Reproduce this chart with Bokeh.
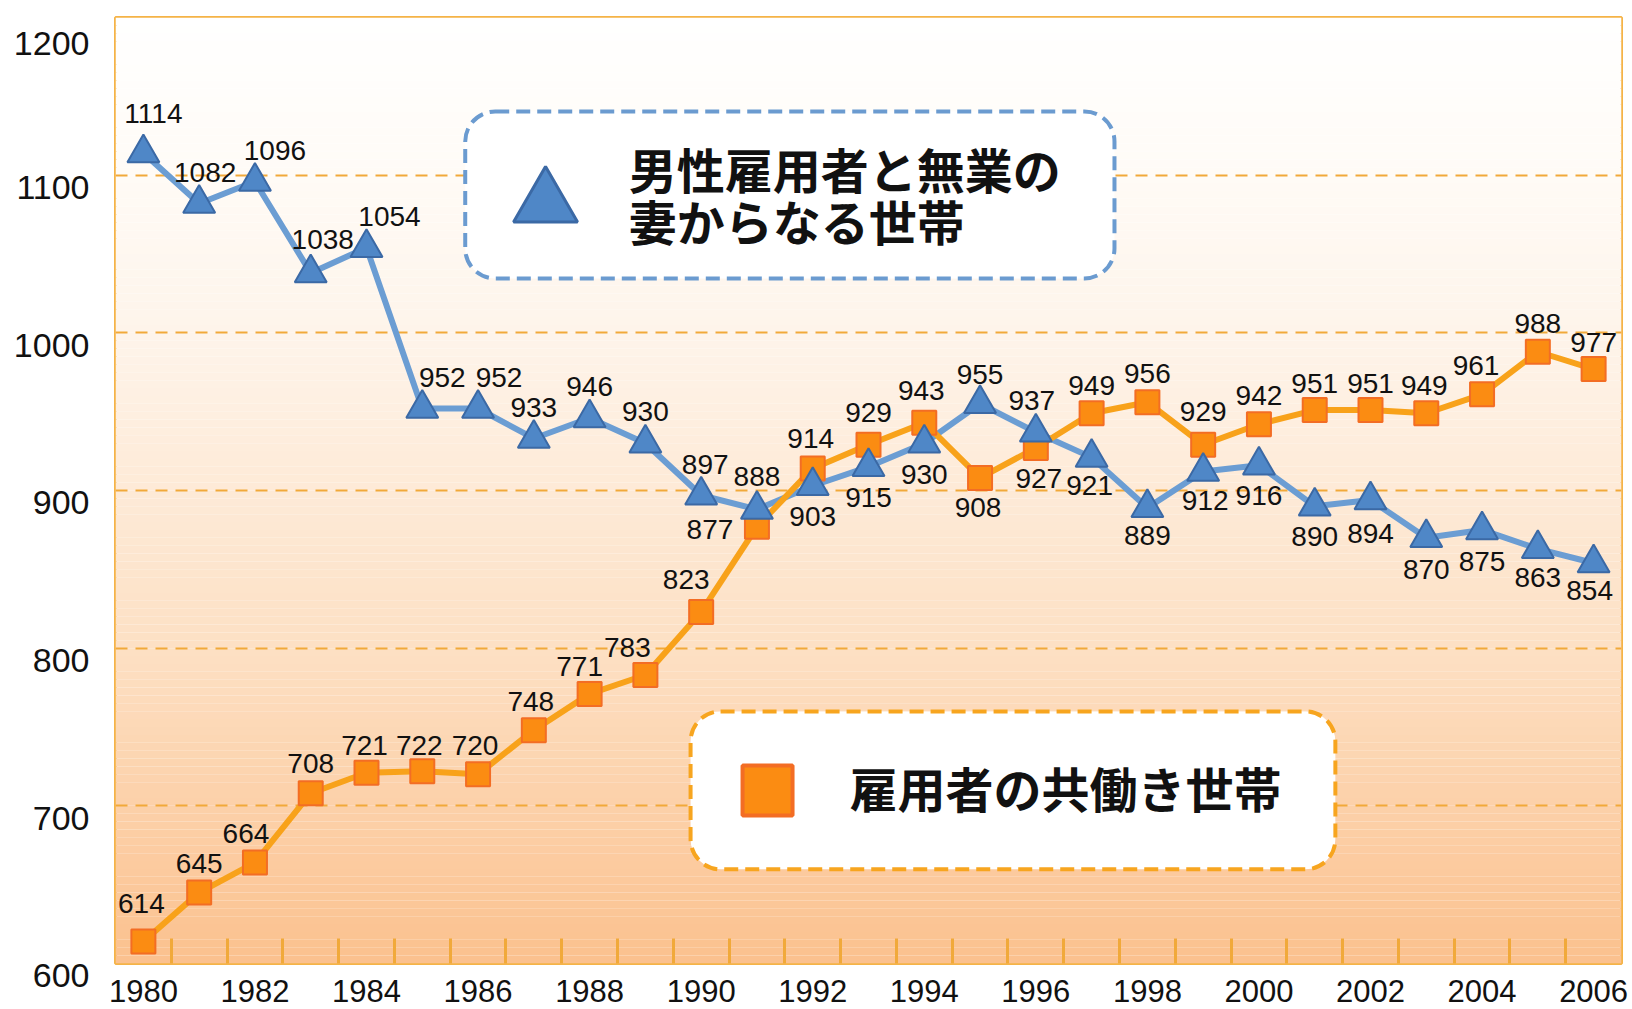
import numpy as np
from bokeh.plotting import figure
from bokeh.models import ColumnDataSource, FixedTicker, BoxAnnotation, Label, Range1d
from bokeh.core.properties import value
from bokeh.embed import file_html
from bokeh.resources import INLINE

# ---------------- data ----------------
years = list(range(1980, 2007))
single_earner = [1114, 1082, 1096, 1038, 1054, 952, 952, 933, 946, 930, 897, 888, 903,
                 915, 930, 955, 937, 921, 889, 912, 916, 890, 894, 870, 875, 863, 854]
dual_earner = [614, 645, 664, 708, 721, 722, 720, 748, 771, 783, 823, 877, 914,
               929, 943, 908, 927, 949, 956, 929, 942, 951, 951, 949, 961, 988, 977]
x_tick_years = list(range(1980, 2007, 2))
y_tick_values = [600, 700, 800, 900, 1000, 1100, 1200]
grid_values = [700, 800, 900, 1000, 1100]
name_single = ["男性雇用者と無業の", "妻からなる世帯"]
name_dual = "雇用者の共働き世帯"

# ---------------- label placement (style, screen px) ----------------
single_dx = [10, 6, 20, 12, 23, 20, 21, 0, 0, 0, 4, 0, 0, 0, 0, 0, -4,
             -2, 0, 2, 0, 0, 0, 0, 0, 0, -4]
single_dy = [-40, -31, -31, -33, -31, -31, -31, -31, -31, -32, -31, -33, 31, 31, 31,
             -29, -32, 28, 28, 29, 30, 30, 34, 32, 32, 29, 27]
dual_dx = [-2, 0, -9, 0, -2, -3, -3, -3, -10, -18, -15, -47, -2, 0, -3, -2, 3,
           0, 0, 0, 0, 0, 0, -2, -6, 0, 0]
dual_dy = [-38, -29, -29, -30, -27, -26, -29, -29, -27, -27, -32, 3, -30, -32, -32,
           30, 31, -28, -29, -33, -29, -27, -27, -28, -29, -28, -27]

BLUE_LINE = "#6b9dd3"
BLUE_FILL = "#4f87c7"
BLUE_EDGE = "#3b69a5"
OR_LINE = "#f8a21a"
OR_FILL = "#fb8c12"
OR_EDGE = "#f36d24"
FRAME = "#f5b347"
GRID = "#f1a93a"

p = figure(width=1632, height=1009, output_backend="svg", toolbar_location=None,
           x_range=Range1d(1979.5, 2006.5), y_range=Range1d(600, 1200),
           min_border_left=115, min_border_right=11, min_border_top=17, min_border_bottom=46)
p.background_fill_color = "white"
p.border_fill_color = "white"
p.outline_line_color = FRAME
p.outline_line_width = 3

# gradient background (white at top -> peach at bottom)
stops_v = np.array([600, 800, 1000, 1100, 1200], dtype=float)
stops_c = np.array([[251, 193, 142], [253, 224, 196], [254, 244, 234], [255, 251, 246], [255, 255, 255]])
edges = np.linspace(600, 1200, 121)
mids = (edges[:-1] + edges[1:]) / 2
cols = []
for m in mids:
    rgb = [int(round(np.interp(m, stops_v, stops_c[:, k]))) for k in range(3)]
    cols.append("#%02x%02x%02x" % tuple(rgb))
bg = p.quad(left=1979.5, right=2006.5, bottom=edges[:-1], top=edges[1:],
            fill_color=cols, line_color=None, level="image")

# grid
p.xgrid.visible = False
p.ygrid.ticker = FixedTicker(ticks=grid_values)
p.ygrid.grid_line_color = GRID
p.ygrid.grid_line_width = 2
p.ygrid.grid_line_dash = "12 8"

# x axis
p.xaxis.ticker = FixedTicker(ticks=x_tick_years, minor_ticks=[y + 0.5 for y in years[:-1]])
p.xaxis.axis_line_color = None
p.xaxis.major_tick_line_color = None
p.xaxis.minor_tick_line_color = GRID
p.xaxis.minor_tick_line_width = 3
p.xaxis.minor_tick_in = 25
p.xaxis.minor_tick_out = 0
p.xaxis.major_label_text_font = "Liberation Sans"
p.xaxis.major_label_text_font_size = "31px"
p.xaxis.major_label_text_color = "#111111"
p.xaxis.major_label_standoff = 10

# y axis: labels hung just below each gridline, as in the reference
p.yaxis.ticker = FixedTicker(ticks=y_tick_values)
p.yaxis.axis_line_color = None
p.yaxis.major_tick_line_color = None
p.yaxis.minor_tick_line_color = None
p.yaxis.major_label_text_font = "Liberation Sans"
p.yaxis.major_label_text_font_size = "34px"
p.yaxis.major_label_text_color = "#111111"
p.yaxis.major_label_text_line_height = 0.62
p.yaxis.major_label_overrides = {v: "\n" + str(v) for v in y_tick_values}
p.yaxis.major_label_standoff = 20

# legend boxes
box1 = BoxAnnotation(left=1985.77, right=1997.41, top=1140.4, bottom=1034.5,
                     fill_color="white", fill_alpha=1.0, line_color="#6b9bd0", line_alpha=1.0,
                     line_width=4, line_dash="14 7", border_radius=30, level="underlay")
box2 = BoxAnnotation(left=1989.81, right=2001.37, top=759.9, bottom=659.7,
                     fill_color="white", fill_alpha=1.0, line_color="#f7a51f", line_alpha=1.0,
                     line_width=4, line_dash="14 7", border_radius=30, level="underlay")
p.add_layout(box1)
p.add_layout(box2)

src_s = ColumnDataSource(dict(x=years, y=single_earner, t=[str(v) for v in single_earner],
                              dx=single_dx, dy=single_dy))
src_d = ColumnDataSource(dict(x=years, y=dual_earner, t=[str(v) for v in dual_earner],
                              dx=dual_dx, dy=dual_dy))

p.line("x", "y", source=src_s, line_color=BLUE_LINE, line_width=6)
p.line("x", "y", source=src_d, line_color=OR_LINE, line_width=6)
p.scatter("x", "y", source=src_d, marker="square", size=24, fill_color=OR_FILL,
          line_color=OR_EDGE, line_width=2)
p.scatter("x", "y", source=src_s, marker="triangle", size=32, fill_color=BLUE_FILL,
          line_color=BLUE_EDGE, line_width=2)

for src in (src_s, src_d):
    p.text("x", "y", text="t", source=src, x_offset="dx", y_offset="dy",
           text_font=value("Liberation Sans"), text_font_size="28px",
           text_align="center", text_baseline="middle", text_color="#111111")

# legend markers
p.scatter([1987.21], [1082.0], marker="triangle", size=64, fill_color=BLUE_FILL,
          line_color=BLUE_EDGE, line_width=3)
p.scatter([1991.19], [709.8], marker="square", size=50, fill_color=OR_FILL,
          line_color=OR_EDGE, line_width=4)

for txt, yy in zip(name_single, [1104.4, 1071.4]):
    p.add_layout(Label(x=1988.7, y=yy, text=txt, text_font="Noto Sans CJK JP",
                       text_font_size="48px", text_font_style="bold", text_color="#111111",
                       text_baseline="middle", text_align="left"))
p.add_layout(Label(x=1992.66, y=711.7, text=name_dual, text_font="Noto Sans CJK JP",
                   text_font_size="48px", text_font_style="bold", text_color="#111111",
                   text_baseline="middle", text_align="left"))

open("out.html", "w").write(file_html(p, INLINE))
